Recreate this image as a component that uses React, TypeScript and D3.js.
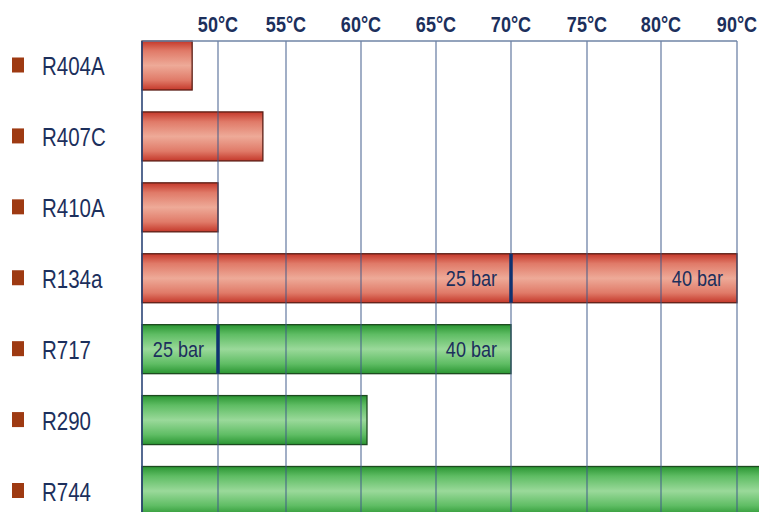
import React from "react";
import * as d3 from "d3";

// Refrigerants and the maximum condensing temperature (°C) each reaches
const refrigerants = ["R404A", "R407C", "R410A", "R134a", "R717", "R290", "R744"];
const maxTemp = [48.3, 53.3, 50, 90, 70, 60.4, 95];
const family = ["hfc", "hfc", "hfc", "hfc", "natural", "natural", "natural"];

// Pressure-class markers: refrigerant, temperature reached at that pressure, label
const markerRefrigerant = ["R134a", "R134a", "R717", "R717"];
const markerTemp = [70, 90, 50, 70];
const markerLabel = ["25 bar", "40 bar", "25 bar", "40 bar"];
const markerDivider = [true, false, true, false];

// Temperature tick labels along the top
const tickTemps = [50, 55, 60, 65, 70, 75, 80, 90];
const tickLabels = ["50°C", "55°C", "60°C", "65°C", "70°C", "75°C", "80°C", "90°C"];

const W = 759;
const H = 512;
const FONT = "'Liberation Sans', Arial, sans-serif";
const NAVY = "#1c2f5c";

// Condensed sans text (horizontally squeezed Liberation Sans)
function NarrowText(props: {
  x: number;
  y: number;
  size: number;
  anchor?: "start" | "middle" | "end";
  bold?: boolean;
  children: React.ReactNode;
}) {
  return (
    <text
      transform={`translate(${props.x},${props.y}) scale(0.82,1)`}
      textAnchor={props.anchor ?? "start"}
      fontFamily={FONT}
      fontWeight={props.bold ? "bold" : "normal"}
      fontSize={props.size}
      fill={NAVY}
    >
      {props.children}
    </text>
  );
}

export default function App() {
  // Temperature axis: piecewise, one column per tick step (the last step spans 10°C)
  const x = d3
    .scaleLinear()
    .domain([45, 50, 55, 60, 65, 70, 75, 80, 90])
    .range([142, 218, 286, 361, 436, 511, 587, 661, 737]);

  const y = d3.scalePoint<string>().domain(refrigerants).range([65.5, 491]);
  const barH = 49;

  return (
    <div style={{ position: "absolute", left: 0, top: 0, width: W, height: H, background: "#fff" }}>
      <svg width={W} height={H} style={{ display: "block" }}>
        <defs>
          <linearGradient id="gradHfc" x1="0" y1="0" x2="0" y2="1">
            <stop offset="0" stopColor="#c4382a" />
            <stop offset="0.2" stopColor="#e07a68" />
            <stop offset="0.5" stopColor="#eeaa98" />
            <stop offset="0.8" stopColor="#e07a68" />
            <stop offset="1" stopColor="#c4382a" />
          </linearGradient>
          <linearGradient id="gradNatural" x1="0" y1="0" x2="0" y2="1">
            <stop offset="0" stopColor="#2a9532" />
            <stop offset="0.2" stopColor="#5fbd64" />
            <stop offset="0.5" stopColor="#9ad99a" />
            <stop offset="0.8" stopColor="#5fbd64" />
            <stop offset="1" stopColor="#2a9532" />
          </linearGradient>
        </defs>

        {/* bars */}
        {refrigerants.map((r, i) => {
          const x0 = x(45);
          const x1 = x(maxTemp[i]);
          const yc = y(r) as number;
          const isHfc = family[i] === "hfc";
          return (
            <rect
              key={r}
              x={x0}
              y={yc - barH / 2}
              width={x1 - x0}
              height={barH}
              fill={isHfc ? "url(#gradHfc)" : "url(#gradNatural)"}
              stroke={isHfc ? "#5a1d14" : "#1d4a1f"}
              strokeWidth={1.3}
            />
          );
        })}

        {/* gridlines */}
        {tickTemps.map((t) => (
          <line
            key={t}
            x1={x(t)}
            x2={x(t)}
            y1={41}
            y2={H}
            stroke="#3d5a8a"
            strokeOpacity={0.75}
            strokeWidth={1.3}
          />
        ))}
        <line x1={x(45)} x2={x(90)} y1={41} y2={41} stroke="#6f84a6" strokeWidth={1.5} />
        <line x1={x(45)} x2={x(45)} y1={41} y2={H} stroke="#2b4576" strokeWidth={1.6} />

        {/* pressure markers */}
        {markerRefrigerant.map((r, i) => {
          const xm = x(markerTemp[i]);
          const yc = y(r) as number;
          return (
            <g key={i}>
              {markerDivider[i] && (
                <line x1={xm} x2={xm} y1={yc - barH / 2} y2={yc + barH / 2} stroke="#0f3270" strokeWidth={3.5} />
              )}
              <NarrowText x={xm - 14} y={yc + 8} size={22} anchor="end">
                {markerLabel[i]}
              </NarrowText>
            </g>
          );
        })}

        {/* tick labels */}
        {tickTemps.map((t, i) => (
          <NarrowText key={t} x={x(t)} y={32} size={22} anchor="middle" bold>
            {tickLabels[i]}
          </NarrowText>
        ))}

        {/* category labels with bullets */}
        {refrigerants.map((r) => {
          const yc = y(r) as number;
          return (
            <g key={r}>
              <rect x={12} y={yc - 8} width={12} height={15} fill="#9e3a12" />
              <NarrowText x={42} y={yc + 9.5} size={25}>
                {r}
              </NarrowText>
            </g>
          );
        })}
      </svg>
    </div>
  );
}
